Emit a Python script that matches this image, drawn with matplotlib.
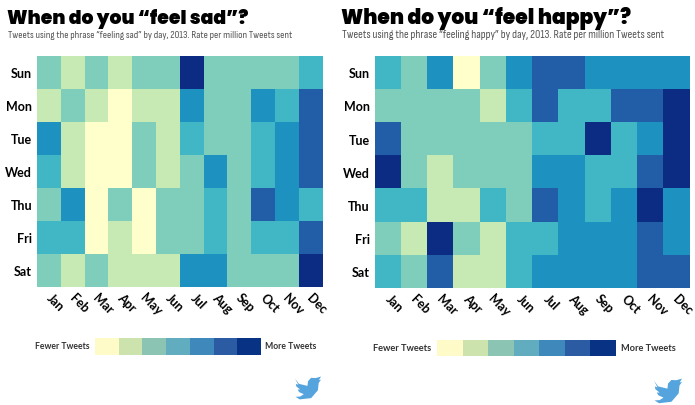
import matplotlib
matplotlib.use('Agg')
import matplotlib.pyplot as plt
from matplotlib.colors import ListedColormap
from matplotlib.patches import PathPatch
from matplotlib.path import Path
from matplotlib.transforms import Affine2D, ScaledTranslation

W, H = 695, 406

days = ['Sun', 'Mon', 'Tue', 'Wed', 'Thu', 'Fri', 'Sat']
months = ['Jan', 'Feb', 'Mar', 'Apr', 'May', 'Jun', 'Jul', 'Aug', 'Sep', 'Oct', 'Nov', 'Dec']

# colour bucket per day/month, 0 = fewest, 6 = most
sad = [
    [2, 1, 2, 1, 2, 2, 6, 2, 2, 2, 2, 3],
    [1, 2, 1, 0, 1, 1, 4, 2, 2, 4, 3, 5],
    [4, 1, 0, 0, 2, 1, 3, 2, 2, 3, 4, 5],
    [3, 1, 0, 0, 2, 1, 2, 4, 2, 3, 4, 5],
    [2, 4, 0, 2, 0, 2, 2, 3, 2, 5, 4, 3],
    [3, 3, 0, 1, 0, 2, 2, 3, 2, 3, 3, 5],
    [2, 1, 2, 1, 1, 1, 4, 4, 2, 2, 2, 6],
]
happy = [
    [3, 2, 4, 0, 2, 4, 5, 5, 4, 4, 4, 4],
    [2, 2, 2, 2, 1, 3, 5, 3, 3, 5, 5, 6],
    [5, 2, 2, 2, 2, 2, 3, 3, 6, 3, 4, 6],
    [6, 2, 1, 2, 2, 2, 4, 4, 3, 3, 5, 6],
    [3, 3, 1, 1, 3, 2, 5, 4, 3, 4, 6, 4],
    [2, 1, 6, 2, 1, 3, 3, 4, 4, 4, 5, 4],
    [3, 2, 5, 1, 1, 3, 4, 4, 4, 4, 5, 5],
]
levels = [0, 1, 2, 3, 4, 5, 6]

map_colors = ['#ffffcc', '#c7e9b4', '#7fcdbb', '#41b6c4', '#1d91c0', '#225ea8', '#0c2c84']
key_colors = ['#fffbc8', '#cce3ae', '#8cc4b3', '#62acc0', '#3f88bb', '#2a5ba3', '#083384']

title_font = ['Poppins', 'Lato']
sub_font = ['Sofia Sans Condensed', 'Lato']
label_font = ['Lato', 'Open Sans']


def px_axes(fig, x0, y0, x1, y1):
    return fig.add_axes([x0 / W, 1 - y1 / H, (x1 - x0) / W, (y1 - y0) / H])


def bird(fig, x0, y0, size):
    # rough twitter bird, unit box with y going down
    verts = [(0.00, 0.10), (0.15, 0.30), (0.48, 0.38), (0.50, 0.20), (0.62, 0.07), (0.80, 0.08),
             (1.00, 0.02), (0.92, 0.16), (1.00, 0.14), (0.91, 0.27), (0.88, 0.55), (0.62, 0.85),
             (0.18, 0.90), (0.02, 0.80), (0.20, 0.79), (0.34, 0.70), (0.16, 0.62), (0.10, 0.52),
             (0.20, 0.52), (0.05, 0.40), (0.03, 0.30), (0.13, 0.34), (0.00, 0.10)]
    path = Path(verts).transformed(Affine2D().scale(size, size).translate(x0, y0))
    path = path.transformed(Affine2D().scale(1 / W, -1 / H).translate(0, 1))
    fig.add_artist(PathPatch(path, transform=fig.transFigure, fc='#55a4dd', ec='none'))


def panel(fig, values, box, key_box, title, sub, title_x, title_size, sub_size, key_size, fewer_x, more_x,
          key_y, bird_x, bird_y, bird_size):
    ax = px_axes(fig, *box)
    ax.pcolormesh(values, cmap=ListedColormap(map_colors), vmin=-0.5, vmax=6.5)
    ax.invert_yaxis()
    ax.set_xticks([i + 0.5 for i in range(12)])
    ax.set_xticklabels(months, rotation=-45, ha='center', va='top', fontsize=9,
                       family=label_font, fontweight='bold')
    ax.set_yticks([i + 0.5 for i in range(7)])
    ax.set_yticklabels(days, fontsize=9, family=label_font, fontweight='bold')
    ax.tick_params(length=0)
    ax.tick_params(axis='x', pad=4)
    ax.tick_params(axis='y', pad=3.5)
    # month labels sit a little right of the cell centres
    shift = ScaledTranslation(6.5 / fig.dpi, 2 / fig.dpi, fig.dpi_scale_trans)
    for lab in ax.get_xticklabels():
        lab.set_transform(lab.get_transform() + shift)
    for s in ax.spines.values():
        s.set_visible(False)

    fig.text(title_x / W, 1 - 24 / H, title, fontsize=title_size, family=title_font, fontweight='black',
             color='black', va='baseline')
    fig.text((title_x + 0.5) / W, 1 - 38 / H, sub, fontsize=sub_size, family=sub_font,
             color='#555555', va='baseline')

    kx = px_axes(fig, *key_box)
    kx.pcolormesh([levels], cmap=ListedColormap(key_colors), vmin=-0.5, vmax=6.5)
    kx.axis('off')
    fig.text(fewer_x / W, 1 - key_y / H, 'Fewer Tweets', fontsize=key_size, family=label_font,
             fontweight='bold', color='#333333', va='center')
    fig.text(more_x / W, 1 - key_y / H, 'More Tweets', fontsize=key_size, family=label_font,
             fontweight='bold', color='#333333', va='center')
    bird(fig, bird_x, bird_y, bird_size)


fig = plt.figure(figsize=(W / 100, H / 100), dpi=100, facecolor='white')

panel(fig, sad, (37, 56.5, 322.5, 288), (95, 339, 261, 355.5),
      'When do you \u201cfeel sad\u201d?',
      'Tweets using the phrase \u201cfeeling sad\u201d by day, 2013. Rate per million Tweets sent',
      7, 13.5, 7.7, 6.2, 35, 265, 347, 295, 377, 26)
panel(fig, happy, (374.5, 56.5, 689.5, 289), (437, 341, 616, 357),
      'When do you \u201cfeel happy\u201d?',
      'Tweets using the phrase \u201cfeeling happy\u201d by day, 2013. Rate per million Tweets sent',
      341, 14.6, 8.5, 6.7, 373, 621, 349, 654, 379, 28)

fig.savefig('out.png', dpi=100)
